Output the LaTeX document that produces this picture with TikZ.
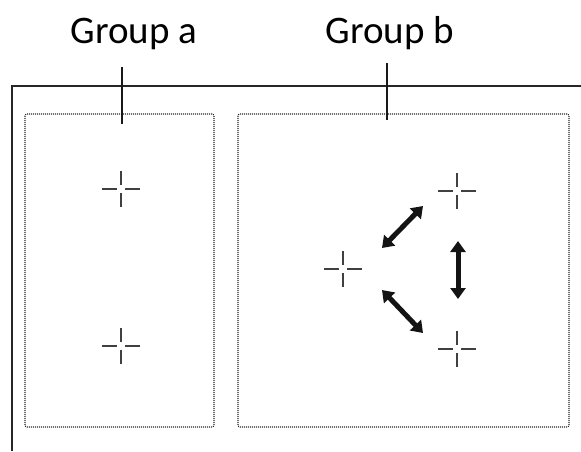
\documentclass[tikz,border=0pt]{standalone}
\usepackage{fontspec}
\setmainfont{Carlito}
\usetikzlibrary{arrows.meta}
\tikzset{
  crossmark/.pic={
    \draw[crossline] (-19,0) -- (-4,0);
    \draw[crossline] (4,0) -- (19,0);
    \draw[crossline] (0,-18) -- (0,-4);
    \draw[crossline] (0,4) -- (0,18);
  },
  crossline/.style={line width=2pt, draw=black!75},
  groupbox/.style={draw=black!85, line width=1.1pt, dash pattern=on 1pt off 1pt, rounded corners=2pt},
  frameline/.style={draw=black!85, line width=1.8pt},
  tickline/.style={draw=black!90, line width=1.4pt},
  bigarrow/.style={line width=5pt, draw=black!92, {Triangle[width=15pt,length=11pt]}-{Triangle[width=15pt,length=11pt]}},
  grouplabel/.style={font=\fontsize{39}{44}\selectfont, anchor=base, inner sep=0pt, text=black}
}
\begin{document}
\begin{tikzpicture}[x=1pt,y=-1pt]
\useasboundingbox (0,0) rectangle (581,451);
% frame
\draw[frameline] (12,451) -- (12,86) -- (581,86);
% group boxes
\draw[groupbox] (25,114) rectangle (214,427);
\draw[groupbox] (238,114) rectangle (569,427);
% labels
\node[grouplabel] (la) at (134,43) {Group a};
\node[grouplabel] (lb) at (390,43) {Group b};
% ticks
\coordinate (ta1) at (122,67); \coordinate (ta2) at (122,124);
\coordinate (tb1) at (387,63); \coordinate (tb2) at (387,120);
\draw[tickline] (ta1) -- (ta2);
\draw[tickline] (tb1) -- (tb2);
% crosses
\pic at (121,189) {crossmark};
\pic at (121,346) {crossmark};
\pic at (343,269) {crossmark};
\pic at (457,191) {crossmark};
\pic at (457,349) {crossmark};
% arrows
\coordinate (a1s) at (382,248); \coordinate (a1e) at (423,206);
\coordinate (a2s) at (382,290); \coordinate (a2e) at (423,333);
\coordinate (a3s) at (458,241); \coordinate (a3e) at (458,299);
\draw[bigarrow] (a1s) -- (a1e);
\draw[bigarrow] (a2s) -- (a2e);
\draw[bigarrow] (a3s) -- (a3e);
\end{tikzpicture}
\end{document}
